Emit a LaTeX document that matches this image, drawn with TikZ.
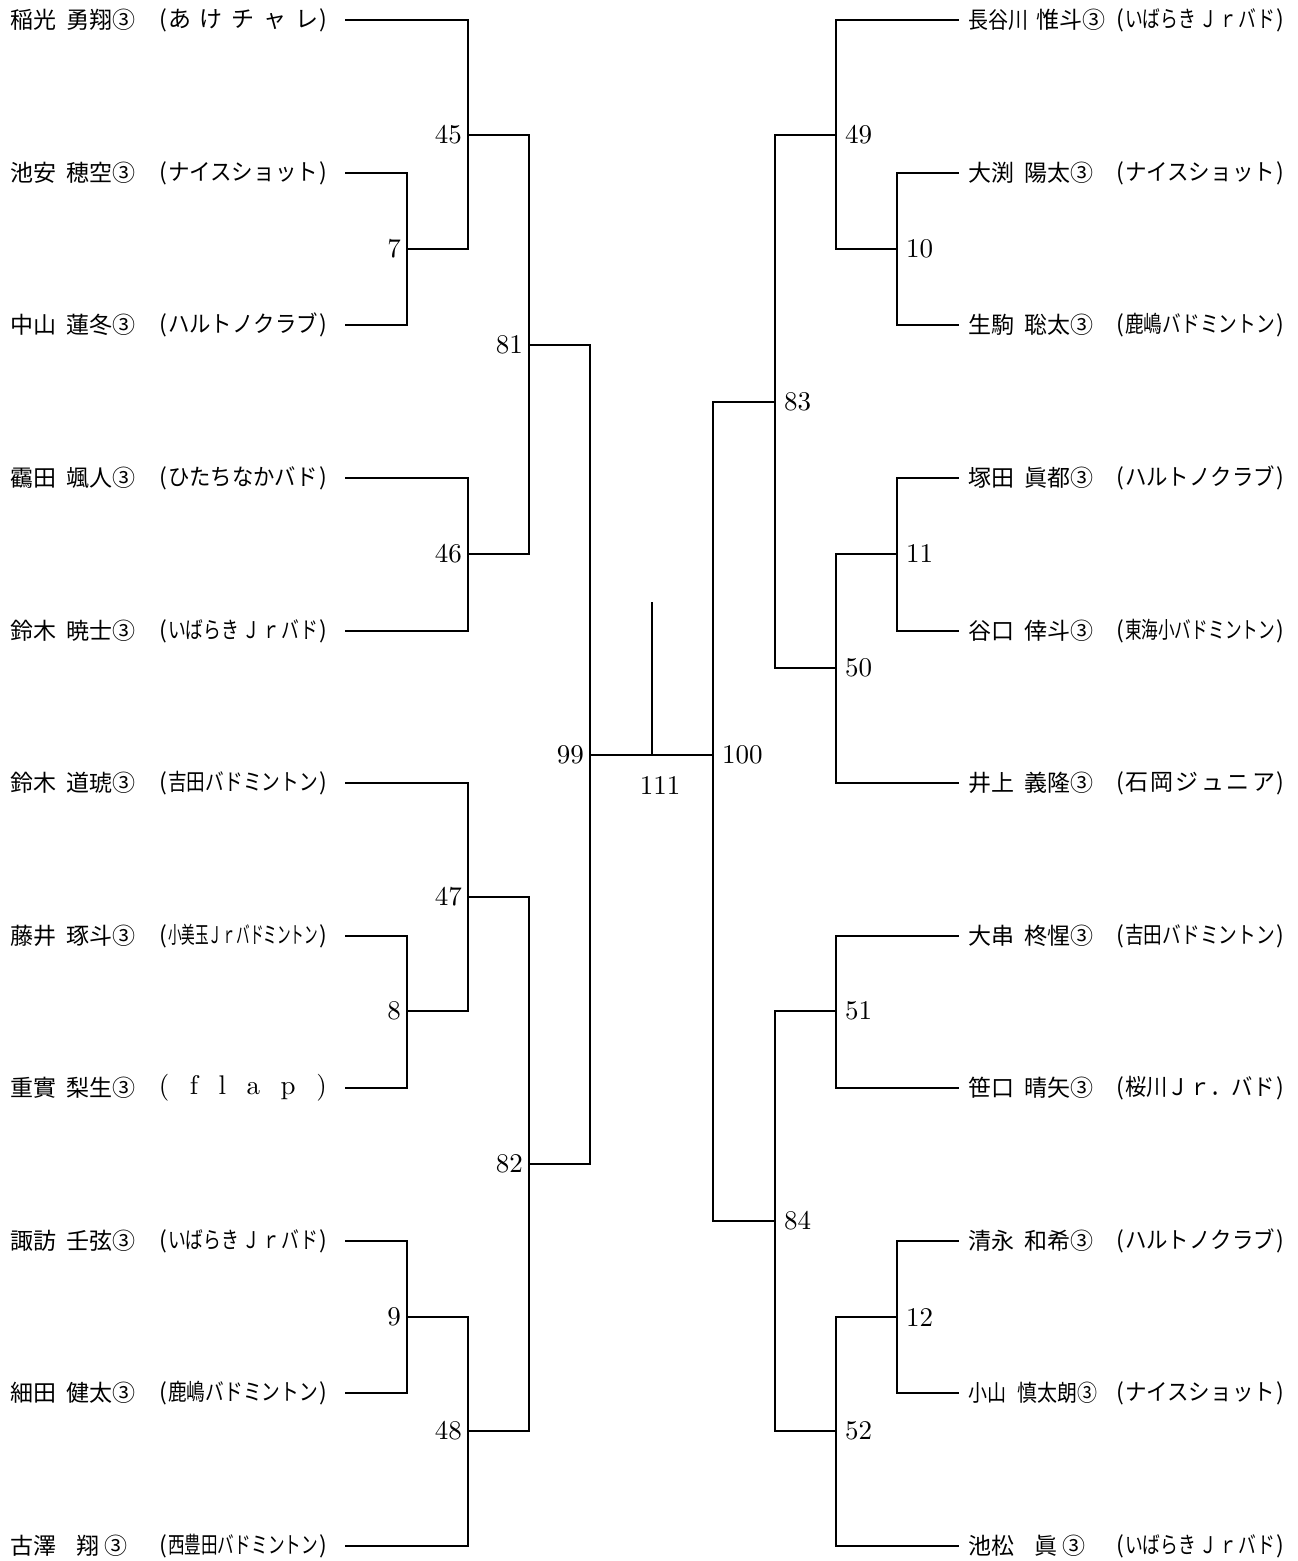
\documentclass[tikz,border=0pt]{standalone}
\usepackage{fontspec}
\usepackage{graphicx}
\newfontfamily\jp{Noto Sans CJK JP}
\newfontfamily\numfont{lmroman10-regular.otf}
\newcommand\cfit[1]{\resizebox{150pt}{\height}{#1}}
\newcommand\cspread[1]{\makebox[150pt][s]{#1}}
\newcommand\clubtxt[1]{(\hspace{1pt}#1\hspace{1pt})}
\newcommand\nm[2]{#1\hspace{0.45em}#2③}
\newcommand\nmone[2]{#1\hspace{0.9em}#2\hspace{5pt}③}
\tikzset{
  jpname/.style={font=\jp\fontsize{23}{26}\selectfont, inner sep=0pt},
  lname/.style={jpname, anchor=west},
  lclub/.style={jpname, anchor=east},
  num/.style={font=\numfont\fontsize{27}{30}\selectfont, inner sep=0pt},
  numl/.style={num, anchor=east},
  numr/.style={num, anchor=west},
  br/.style={line width=1.2pt, line cap=rect}
}
\begin{document}
\begin{tikzpicture}[x=1pt,y=-1pt]
\useasboundingbox (0,0) rectangle (1298,1561);
\fill[white] (0,0) rectangle (1298,1561);
% ---------- left players ----------
\node[lname] (nL0) at (10,20) {\nm{稲光}{勇翔}};
\node[lclub] (cL0) at (327,20) {\clubtxt{\cspread{あ\hfill け\hfill チ\hfill ャ\hfill レ}}};
\node[lname] (nL1) at (10,173) {\nm{池安}{穂空}};
\node[lclub] (cL1) at (327,173) {\clubtxt{\cfit{ナイスショット}}};
\node[lname] (nL2) at (10,325) {\nm{中山}{蓮冬}};
\node[lclub] (cL2) at (327,325) {\clubtxt{\cfit{ハルトノクラブ}}};
\node[lname] (nL3) at (10,478) {\nm{靍田}{颯人}};
\node[lclub] (cL3) at (327,478) {\clubtxt{\cfit{ひたちなかバド}}};
\node[lname] (nL4) at (10,631) {\nm{鈴木}{暁士}};
\node[lclub] (cL4) at (327,631) {\clubtxt{\cfit{いばらき\hspace{0.2em}Ｊ\hspace{0.1em}ｒ\hspace{0.1em}バド}}};
\node[lname] (nL5) at (10,783) {\nm{鈴木}{道琥}};
\node[lclub] (cL5) at (327,783) {\clubtxt{\cfit{吉田バドミントン}}};
\node[lname] (nL6) at (10,936) {\nm{藤井}{琢斗}};
\node[lclub] (cL6) at (327,936) {\clubtxt{\cfit{小美玉Ｊｒバドミントン}}};
\node[lname] (nL7) at (10,1088) {\nm{重實}{梨生}};
\node[lclub] (cL7) at (327,1088) {\numfont\fontsize{27}{30}\selectfont\makebox[168pt][s]{(\hfill f\hfill l\hfill a\hfill p\hfill )}};
\node[lname] (nL8) at (10,1241) {\nm{諏訪}{壬弦}};
\node[lclub] (cL8) at (327,1241) {\clubtxt{\cfit{いばらき\hspace{0.2em}Ｊ\hspace{0.1em}ｒ\hspace{0.1em}バド}}};
\node[lname] (nL9) at (10,1393) {\nm{細田}{健太}};
\node[lclub] (cL9) at (327,1393) {\clubtxt{\cfit{鹿嶋バドミントン}}};
\node[lname] (nL10) at (10,1546) {\nmone{古澤}{翔}};
\node[lclub] (cL10) at (327,1546) {\clubtxt{\cfit{西豊田バドミントン}}};
% ---------- right players ----------
\node[lname] (nR0) at (968,20) {\resizebox{60pt}{\height}{長谷川}\hspace{0.35em}惟斗③};
\node[lclub] (cR0) at (1284,20) {\clubtxt{\cfit{いばらき\hspace{0.2em}Ｊ\hspace{0.1em}ｒ\hspace{0.1em}バド}}};
\node[lname] (nR1) at (968,173) {\nm{大渕}{陽太}};
\node[lclub] (cR1) at (1284,173) {\clubtxt{\cfit{ナイスショット}}};
\node[lname] (nR2) at (968,325) {\nm{生駒}{聡太}};
\node[lclub] (cR2) at (1284,325) {\clubtxt{\cfit{鹿嶋バドミントン}}};
\node[lname] (nR3) at (968,478) {\nm{塚田}{眞都}};
\node[lclub] (cR3) at (1284,478) {\clubtxt{\cfit{ハルトノクラブ}}};
\node[lname] (nR4) at (968,631) {\nm{谷口}{倖斗}};
\node[lclub] (cR4) at (1284,631) {\clubtxt{\cfit{東海小バドミントン}}};
\node[lname] (nR5) at (968,783) {\nm{井上}{義隆}};
\node[lclub] (cR5) at (1284,783) {\clubtxt{\cspread{石\hfill 岡\hfill ジ\hfill ュ\hfill ニ\hfill ア}}};
\node[lname] (nR6) at (968,936) {\nm{大串}{柊惺}};
\node[lclub] (cR6) at (1284,936) {\clubtxt{\cfit{吉田バドミントン}}};
\node[lname] (nR7) at (968,1088) {\nm{笹口}{晴矢}};
\node[lclub] (cR7) at (1284,1088) {\clubtxt{\cfit{桜川Ｊｒ．バド}}};
\node[lname] (nR8) at (968,1241) {\nm{清永}{和希}};
\node[lclub] (cR8) at (1284,1241) {\clubtxt{\cfit{ハルトノクラブ}}};
\node[lname] (nR9) at (968,1393) {\resizebox{38pt}{\height}{小山}\hspace{0.5em}\resizebox{80pt}{\height}{慎太朗③}};
\node[lclub] (cR9) at (1284,1393) {\clubtxt{\cfit{ナイスショット}}};
\node[lname] (nR10) at (968,1546) {\nmone{池松}{眞}};
\node[lclub] (cR10) at (1284,1546) {\clubtxt{\cfit{いばらき\hspace{0.2em}Ｊ\hspace{0.1em}ｒ\hspace{0.1em}バド}}};
% ---------- coordinates: line starts ----------
\coordinate (pL0) at (346,20);   \coordinate (pL1) at (346,173);
\coordinate (pL2) at (346,325);  \coordinate (pL3) at (346,478);
\coordinate (pL4) at (346,631);  \coordinate (pL5) at (346,783);
\coordinate (pL6) at (346,936);  \coordinate (pL7) at (346,1088);
\coordinate (pL8) at (346,1241); \coordinate (pL9) at (346,1393);
\coordinate (pL10) at (346,1546);
\coordinate (pR0) at (958,20);   \coordinate (pR1) at (958,173);
\coordinate (pR2) at (958,325);  \coordinate (pR3) at (958,478);
\coordinate (pR4) at (958,631);  \coordinate (pR5) at (958,783);
\coordinate (pR6) at (958,936);  \coordinate (pR7) at (958,1088);
\coordinate (pR8) at (958,1241); \coordinate (pR9) at (958,1393);
\coordinate (pR10) at (958,1546);
% match junction coordinates (vertical-line x, output y)
\coordinate (j7) at (407,249);   \coordinate (j45) at (468,135);
\coordinate (j46) at (468,554);  \coordinate (j81) at (529,345);
\coordinate (j8) at (407,1011);  \coordinate (j47) at (468,897);
\coordinate (j9) at (407,1317);  \coordinate (j48) at (468,1431);
\coordinate (j82) at (529,1164); \coordinate (j99) at (590,755);
\coordinate (j100) at (713,755); \coordinate (j111) at (652,755);
\coordinate (top111) at (652,603);
\coordinate (j10) at (897,249);  \coordinate (j49) at (836,135);
\coordinate (j11) at (897,554);  \coordinate (j50) at (836,668);
\coordinate (j83) at (775,402);
\coordinate (j51) at (836,1011); \coordinate (j12) at (897,1317);
\coordinate (j52) at (836,1431); \coordinate (j84) at (775,1221);
% ---------- left bracket ----------
\draw[br] (pL1) -| (j7) |- (pL2);
\draw[br] (pL0) -| (j45) |- (j7);
\draw[br] (pL3) -| (j46) |- (pL4);
\draw[br] (j45) -| (j81) |- (j46);
\draw[br] (pL6) -| (j8) |- (pL7);
\draw[br] (pL5) -| (j47) |- (j8);
\draw[br] (pL8) -| (j9) |- (pL9);
\draw[br] (j9) -| (j48) |- (pL10);
\draw[br] (j47) -| (j82) |- (j48);
\draw[br] (j81) -| (j99) |- (j82);
\draw[br] (j99) -- (j100);
\draw[br] (j111) -- (top111);
% ---------- right bracket ----------
\draw[br] (pR1) -| (j10) |- (pR2);
\draw[br] (pR0) -| (j49) |- (j10);
\draw[br] (pR3) -| (j11) |- (pR4);
\draw[br] (j11) -| (j50) |- (pR5);
\draw[br] (j49) -| (j83) |- (j50);
\draw[br] (pR6) -| (j51) |- (pR7);
\draw[br] (pR8) -| (j12) |- (pR9);
\draw[br] (j12) -| (j52) |- (pR10);
\draw[br] (j51) -| (j84) |- (j52);
\draw[br] (j83) -| (j100) |- (j84);
% ---------- match numbers ----------
\node[numl] (m45) at (462,135) {45};
\node[numl] (m7) at (401,249) {7};
\node[numl] (m46) at (462,554) {46};
\node[numl] (m81) at (523,345) {81};
\node[numl] (m47) at (462,897) {47};
\node[numl] (m8) at (401,1011) {8};
\node[numl] (m9) at (401,1317) {9};
\node[numl] (m48) at (462,1431) {48};
\node[numl] (m82) at (523,1164) {82};
\node[numl] (m99) at (584,755) {99};
\node[num] (m111) at (660,785) {111};
\node[numr] (m100) at (722,755) {100};
\node[numr] (m49) at (845,135) {49};
\node[numr] (m10) at (906,249) {10};
\node[numr] (m83) at (784,402) {83};
\node[numr] (m11) at (906,554) {11};
\node[numr] (m50) at (845,668) {50};
\node[numr] (m51) at (845,1011) {51};
\node[numr] (m12) at (906,1317) {12};
\node[numr] (m52) at (845,1431) {52};
\node[numr] (m84) at (784,1221) {84};
\end{tikzpicture}
\end{document}
